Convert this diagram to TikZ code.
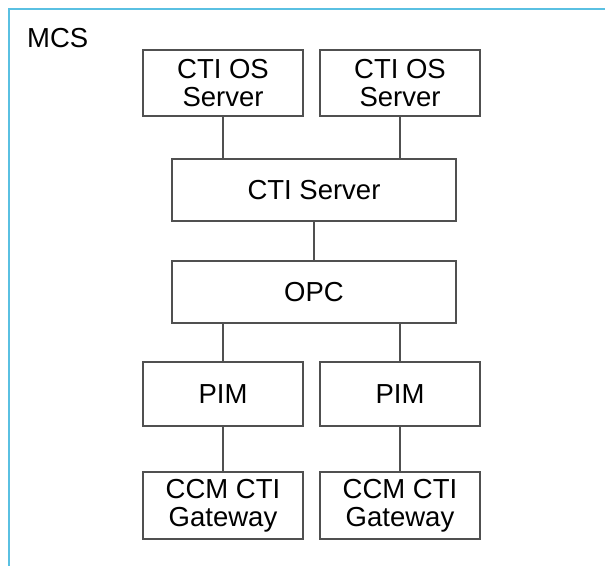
\documentclass[tikz,border=0pt]{standalone}
\usepackage{fontspec}
\setmainfont{Liberation Sans}
\definecolor{framecyan}{RGB}{90,192,226}
\definecolor{boxgray}{RGB}{80,80,80}
\begin{document}
\begin{tikzpicture}[x=1pt,y=-1pt,
  box/.style={draw=boxgray, line width=1.4pt, fill=white, inner sep=0pt, align=center,
    font=\fontsize{27.5}{28.5}\selectfont, text=black},
  link/.style={draw=boxgray, line width=1.4pt}]
\useasboundingbox (0,0) rectangle (605,565);
\draw[framecyan, line width=2pt] (9,566) -- (9,9) -- (606,9);
\node[anchor=base west, font=\fontsize{27.5}{28.5}\selectfont, inner sep=0pt] (mcs) at (27,47) {MCS};
\node[box, minimum width=160pt, minimum height=66pt] (os1) at (223,83) {CTI OS\\Server};
\node[box, minimum width=160pt, minimum height=66pt] (os2) at (400,83) {CTI OS\\Server};
\node[box, minimum width=284pt, minimum height=62pt] (cti) at (314,190) {CTI Server};
\node[box, minimum width=284pt, minimum height=62pt] (opc) at (314,292) {OPC};
\node[box, minimum width=160pt, minimum height=64pt] (pim1) at (223,394) {PIM};
\node[box, minimum width=160pt, minimum height=64pt] (pim2) at (400,394) {PIM};
\node[box, minimum width=160pt, minimum height=67pt] (gw1) at (223,505.5) {CCM CTI\\Gateway};
\node[box, minimum width=160pt, minimum height=67pt] (gw2) at (400,505.5) {CCM CTI\\Gateway};
\draw[link] (os1.south) -- (os1.south |- cti.north);
\draw[link] (os2.south) -- (os2.south |- cti.north);
\draw[link] (cti.south) -- (opc.north);
\draw[link] (opc.south -| pim1.north) -- (pim1.north);
\draw[link] (opc.south -| pim2.north) -- (pim2.north);
\draw[link] (pim1.south) -- (gw1.north);
\draw[link] (pim2.south) -- (gw2.north);
\end{tikzpicture}
\end{document}
